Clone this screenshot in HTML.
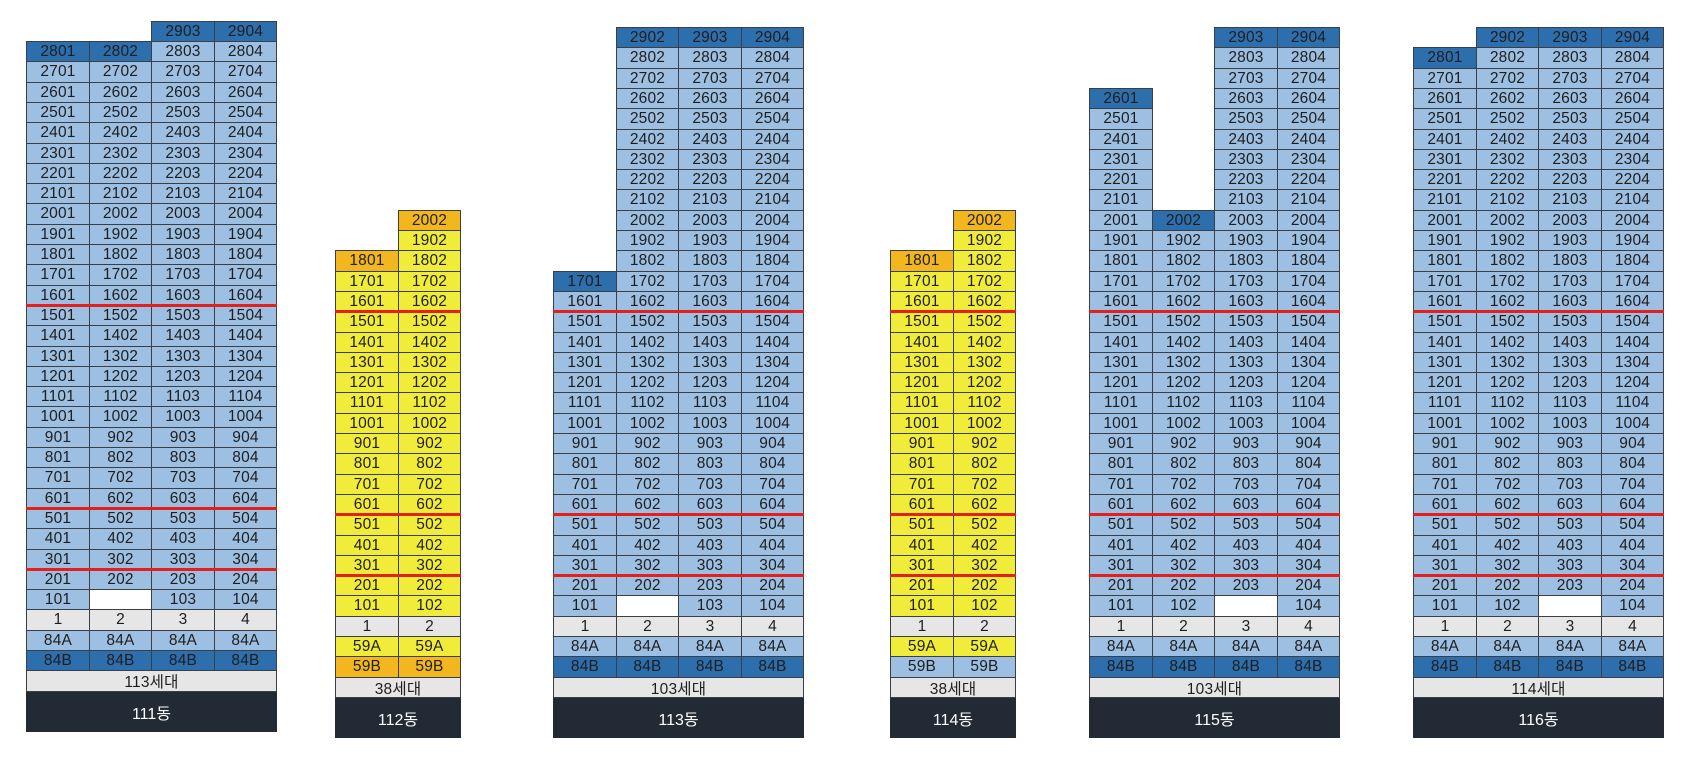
<!DOCTYPE html>
<html><head><meta charset="utf-8"><style>
html,body{margin:0;padding:0;background:#fff;width:1686px;height:761px;overflow:hidden;position:relative}
.c{position:absolute;box-sizing:border-box;border:1px solid #3a3f47;font-family:"Liberation Sans","Noto Sans CJK KR",sans-serif;font-size:15.5px;color:#1e1e1e;text-align:center;display:flex;align-items:center;justify-content:center;letter-spacing:0.2px}
.r{position:absolute;height:3px;background:#e3201b}
.d{position:absolute;background:#222a36;color:#fff;font-family:"Liberation Sans","Noto Sans CJK KR",sans-serif;font-size:16px;display:flex;align-items:center;justify-content:center}
</style></head><body>
<script>
var LB='#9cbfe2',DB='#2d6ead',YE='#f1eb3a',OR='#f2b61e',GR='#e6e6e6',WH='#ffffff';
var RH=20.3,CW=62.6,TOP=27;
var R=Math.round;
function cell(x,y,w,h,bg,t){var e=document.createElement('div');e.className='c';
 var x0=R(x),y0=R(y),x1=R(x+w),y1=R(y+h);
 e.style.cssText='left:'+x0+'px;top:'+y0+'px;width:'+(x1-x0+1)+'px;height:'+(y1-y0+1)+'px;background:'+bg;e.textContent=t||'';document.body.appendChild(e);}
function B(x,dy,n,fn,types,total,name){
 function fy(f){return TOP+dy+(29-f)*RH;}
 for(var f=1;f<=29;f++){for(var c=1;c<=n;c++){var r=fn(f,c);if(r)cell(x+(c-1)*CW,fy(f),CW,RH,r[0],r[1]);}}
 var y=fy(0);
 for(var c=1;c<=n;c++)cell(x+(c-1)*CW,y,CW,RH,GR,''+c);
 for(var i=0;i<types.length;i++)for(var c=1;c<=n;c++)cell(x+(c-1)*CW,y+RH*(i+1),CW,RH,types[i][1],types[i][0]);
 var W=CW*n;
 cell(x,y+RH*3,W,RH,GR,total);
 var d=document.createElement('div');d.className='d';var dt=R(y+RH*4)+1;d.style.cssText='left:'+R(x)+'px;top:'+dt+'px;width:'+(R(x+W)-R(x)+1)+'px;height:40px';d.textContent=name;document.body.appendChild(d);
 [15,5,2].forEach(function(f){var r=document.createElement('div');r.className='r';r.style.cssText='left:'+R(x)+'px;top:'+(R(fy(f))-1)+'px;width:'+(R(x+W)-R(x)+1)+'px';document.body.appendChild(r);});
}
function u(f,c){return f*100+c+'';}
B(26,-6.3,4,function(f,c){
 if(f==29)return c>=3?[DB,u(f,c)]:null;
 if(f==28)return [c<=2?DB:LB,u(f,c)];
 if(f==1&&c==2)return [WH,''];
 return [LB,u(f,c)];},[['84A',LB],['84B',DB]],'113세대','111동');
B(335,0,2,function(f,c){
 if(f>20)return null;
 if(f>=19)return c==2?[f==20?OR:YE,u(f,c)]:null;
 if(f==18&&c==1)return [OR,u(f,c)];
 return [YE,u(f,c)];},[['59A',YE],['59B',OR]],'38세대','112동');
B(553,0,4,function(f,c){
 if(f==29)return c>=2?[DB,u(f,c)]:null;
 if(f>=18)return c>=2?[LB,u(f,c)]:null;
 if(f==17&&c==1)return [DB,u(f,c)];
 if(f==1&&c==2)return [WH,''];
 return [LB,u(f,c)];},[['84A',LB],['84B',DB]],'103세대','113동');
B(890,0,2,function(f,c){
 if(f>20)return null;
 if(f>=19)return c==2?[f==20?OR:YE,u(f,c)]:null;
 if(f==18&&c==1)return [OR,u(f,c)];
 return [YE,u(f,c)];},[['59A',YE],['59B',LB]],'38세대','114동');
B(1089,0,4,function(f,c){
 if(f==29)return c>=3?[DB,u(f,c)]:null;
 if(f>=27)return c>=3?[LB,u(f,c)]:null;
 if(f==26){if(c==2)return null;return [c==1?DB:LB,u(f,c)];}
 if(f>=21){if(c==2)return null;return [LB,u(f,c)];}
 if(f==20)return [c==2?DB:LB,u(f,c)];
 if(f==1&&c==3)return [WH,''];
 return [LB,u(f,c)];},[['84A',LB],['84B',DB]],'103세대','115동');
B(1413,0,4,function(f,c){
 if(f==29)return c>=2?[DB,u(f,c)]:null;
 if(f==28)return [c==1?DB:LB,u(f,c)];
 if(f==1&&c==3)return [WH,''];
 return [LB,u(f,c)];},[['84A',LB],['84B',DB]],'114세대','116동');
</script>
</body></html>
